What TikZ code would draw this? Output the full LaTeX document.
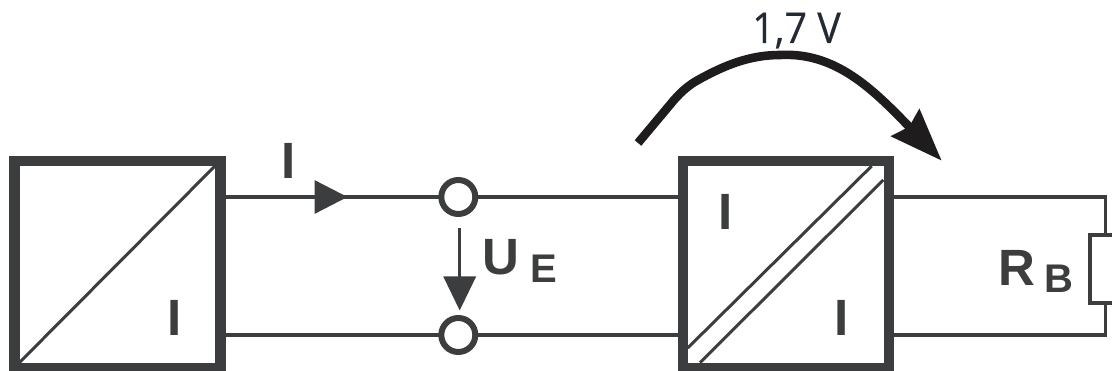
\documentclass[tikz,border=0pt]{standalone}
\usepackage{fontspec}
\setmainfont{Liberation Sans}
\newfontfamily\voltfont[FakeStretch=0.93,FakeBold=0.4]{Open Sans}
\usetikzlibrary{arrows.meta}
\definecolor{ink}{HTML}{3C3D3F}
\definecolor{voltink}{HTML}{232A33}
\definecolor{curveink}{HTML}{1E1C1C}
\tikzset{
  conv/.style={draw=ink,line width=10.5pt,minimum width=206pt,minimum height=207pt,inner sep=0pt,outer sep=0pt},
  terminal/.style={circle,draw=ink,fill=white,line width=6pt,minimum size=34pt,inner sep=0pt,outer sep=0pt},
  wire/.style={draw=ink,line width=3.4pt},
  diag/.style={draw=ink,line width=3pt},
  load/.style={draw=ink,line width=4.5pt,minimum width=60pt,minimum height=68pt,inner sep=0pt,outer sep=0pt},
  big/.style={text=ink,inner sep=0pt,anchor=base,font=\fontsize{51}{51}\selectfont\bfseries},
  small/.style={text=ink,inner sep=0pt,anchor=base,font=\fontsize{40}{40}\selectfont\bfseries},
  volt/.style={text=voltink,inner sep=0pt,anchor=base,font=\fontsize{42.5}{42.5}\selectfont\voltfont}
}
\begin{document}
\begin{tikzpicture}[x=1pt,y=-1pt]
\useasboundingbox (0,0) rectangle (1112,371);
\clip (0,0) rectangle (1112,371);
\node[conv] (boxA) at (117.6,264.5) {};
\node[conv] (boxB) at (785.8,264.5) {};
\node[terminal] (termT) at (458.3,197) {};
\node[terminal] (termB) at (458.3,335) {};
\node[load] (rload) at (1120,269) {};
\coordinate (tipI) at (347.5,197);
\coordinate (cornerT) at (1105.7,197);
\coordinate (cornerB) at (1105.7,335);
\coordinate (ueStart) at (459.7,228);
\coordinate (ueTip) at (459.7,310.5);
\coordinate (curveStart) at (638,143);
\coordinate (curveKnee) at (674,100);
\coordinate (curveBend) at (698,80);
\coordinate (curveTop) at (780,55);
\coordinate (curveTip) at (941.7,160.7);
% wires
\draw[wire] (boxA.east |- termT) -- (termT);
\draw[wire,-{Triangle[length=33pt,width=33pt]}] (boxA.east |- termT) -- (tipI);
\draw[wire] (boxA.east |- termB) -- (termB);
\draw[wire] (termT) -- (boxB.west |- termT);
\draw[wire] (termB) -- (boxB.west |- termB);
\draw[wire] (boxB.east |- termT) -- (cornerT) -- (cornerT |- rload.north);
\draw[wire] (boxB.east |- termB) -- (cornerB) -- (cornerB |- rload.south);
\node[load] at (rload) {};
\draw[wire,-{Triangle[length=34pt,width=32pt]}] (ueStart) -- (ueTip);
% redraw frames on top of the wire ends
\draw[diag] (19,363) -- (215,166);
\draw[diag] (687.7,348) -- (871.7,166);
\draw[diag] (700,362.7) -- (883.3,180);
\node[conv] at (boxA) {};
\node[conv] at (boxB) {};
% voltage drop arc
\draw[curveink,line width=8.6pt,-{Stealth[length=52pt,width=38pt,inset=5pt]}]
  (curveStart) -- (curveKnee) .. controls (682,91) and (689,85) .. (curveBend)
  .. controls (725,65) and (750,55) .. (curveTop)
  .. controls (835,52) and (872,88) .. (curveTip);
% labels
\node[big] (lI) at (288.8,179) {I};
\node[big] (lA) at (174.2,335.7) {I};
\node[big] (lB) at (726,230) {I};
\node[big] (lC) at (841.5,335.7) {I};
\node[big] (lU) at (500.5,275) {U};
\node[small] (lE) at (544,283) {E};
\node[big] (lR) at (1017,285.7) {R};
\node[small] (lRB) at (1058.5,292.7) {B};
\node[volt] (lV) at (796.5,43) {1,7 V};
\end{tikzpicture}
\end{document}
